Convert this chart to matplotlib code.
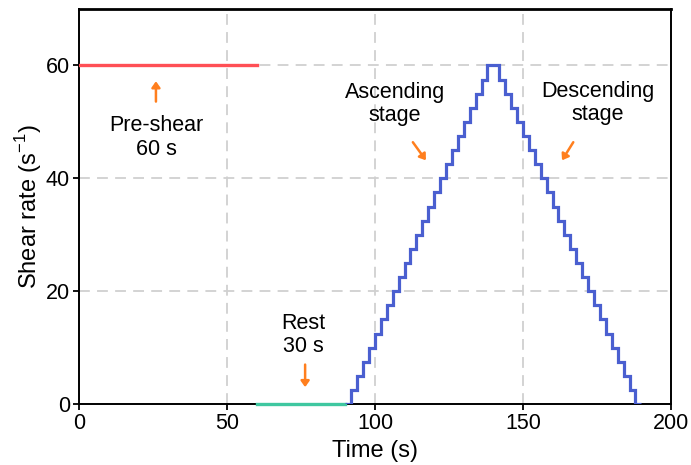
import matplotlib.pyplot as plt

plt.rcParams['font.family'] = ['Liberation Sans', 'DejaVu Sans']

# pre-shear and rest segments (time in s, shear rate in 1/s)
preshear_t = [0, 60]
preshear_rate = [60, 60]
rest_t = [60, 90]
rest_rate = [0, 0]

# stepped ramp: bin edges (s) and shear rate held in each 2 s step
step_edges = [90, 92, 94, 96, 98, 100, 102, 104, 106, 108, 110, 112, 114,
              116, 118, 120, 122, 124, 126, 128, 130, 132, 134, 136, 138, 140,
              142, 144, 146, 148, 150, 152, 154, 156, 158, 160, 162, 164, 166,
              168, 170, 172, 174, 176, 178, 180, 182, 184, 186, 188, 190]
step_rate = [0, 2.5, 5, 7.5, 10, 12.5, 15, 17.5, 20, 22.5, 25, 27.5, 30,
             32.5, 35, 37.5, 40, 42.5, 45, 47.5, 50, 52.5, 55, 57.5, 60,
             60, 57.5, 55, 52.5, 50, 47.5, 45, 42.5, 40, 37.5, 35, 32.5, 30,
             27.5, 25, 22.5, 20, 17.5, 15, 12.5, 10, 7.5, 5, 2.5, 0]

orange = '#ff7f1e'

fig = plt.figure(figsize=(6.91, 4.65), dpi=100)
ax = fig.add_axes([0.1143, 0.131, 0.8567, 0.8496])

ax.plot(preshear_t, preshear_rate, color='#ff4f55', lw=2.4, zorder=3)
ax.plot(rest_t, rest_rate, color='#3fc7a0', lw=2.4, zorder=3, clip_on=False)
ax.stairs(step_rate, step_edges, baseline=None, color='#4a5fd0', lw=2.3,
          zorder=4)

ax.set_xlim(0, 200)
ax.set_ylim(0, 70)
ax.set_xticks([0, 50, 100, 150, 200])
ax.set_yticks([0, 20, 40, 60])
ax.grid(True, color='#d0d0d0', ls=(0, (6, 4)), lw=1.3)
ax.tick_params(direction='out', length=4, width=1.3, labelsize=15.5,
               colors='black', pad=2.5)
for s in ax.spines.values():
    s.set_linewidth(1.4)
ax.spines['top'].set_linewidth(2.0)

ax.set_xlabel('Time (s)', fontsize=17, labelpad=4)
ax.set_ylabel('Shear rate (s$^{\\mathregular{-1}}$)', fontsize=17, labelpad=1)

# stage annotations
txt = dict(ha='center', va='center', fontsize=15.5, linespacing=1.15)
arr = dict(arrowstyle='-|>,head_width=0.25,head_length=0.35', color=orange,
           lw=1.8, shrinkA=0, shrinkB=0)
ax.text(26, 47.2, 'Pre-shear\n60 s', **txt)
ax.annotate('', xy=(26, 57.2), xytext=(26, 53.6), arrowprops=arr)
ax.text(75.7, 12.2, 'Rest\n30 s', **txt)
ax.annotate('', xy=(76.4, 3.0), xytext=(76.4, 7.0), arrowprops=arr)
ax.text(106.8, 53.2, 'Ascending\nstage', **txt)
ax.annotate('', xy=(117.2, 43.2), xytext=(112.8, 46.4), arrowprops=arr)
ax.text(175.3, 53.3, 'Descending\nstage', **txt)
ax.annotate('', xy=(163.2, 43.2), xytext=(167.0, 46.4), arrowprops=arr)

fig.savefig('out.png', dpi=100)
